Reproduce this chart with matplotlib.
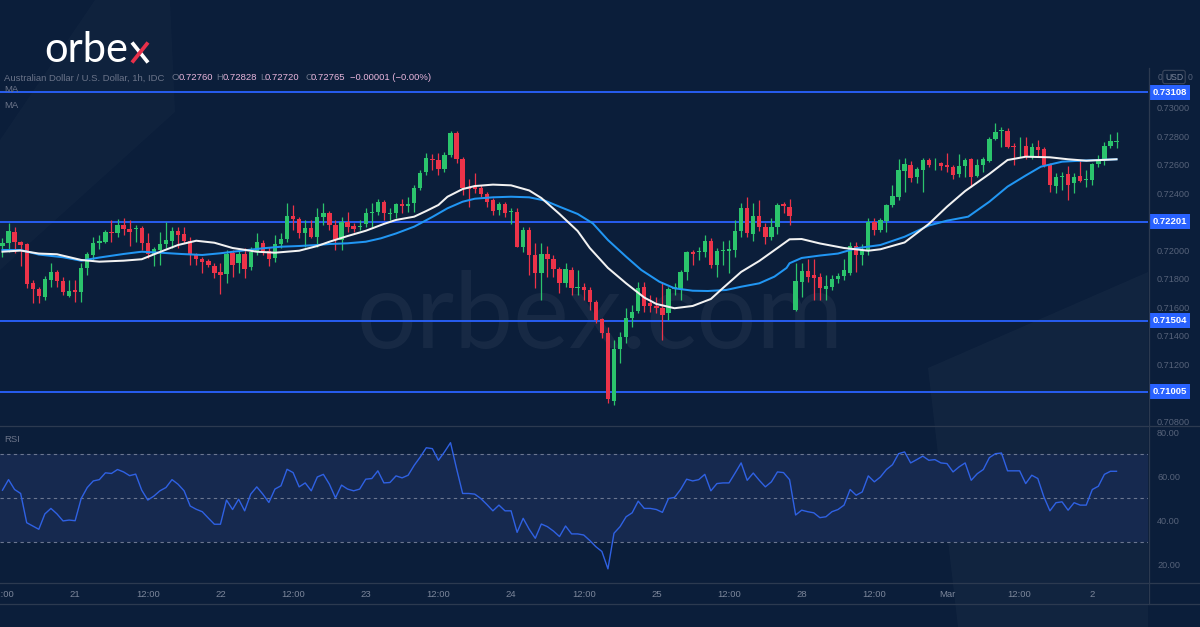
import numpy as np
import matplotlib
matplotlib.use("Agg")
import matplotlib.pyplot as plt
import matplotlib.transforms as mtransforms
from matplotlib.lines import Line2D
from matplotlib.patches import Polygon
from matplotlib.ticker import FormatStrFormatter

plt.rcParams['font.family'] = ['Liberation Sans', 'DejaVu Sans']

# AUD/USD 1h candles, Feb 20 12:00 -> Mar 2 03:00 (weekend compressed)
opens = np.array([
    0.72030, 0.72049, 0.72128, 0.72060, 0.72042, 0.71768, 0.71728, 0.71674, 0.71791, 0.71846,
    0.71784, 0.71681, 0.71721, 0.71705, 0.71878, 0.71967, 0.72049, 0.72060, 0.72130, 0.72123,
    0.72180, 0.72150, 0.72148, 0.72155, 0.72049, 0.71974, 0.72002, 0.72044, 0.72067, 0.72135,
    0.72114, 0.72065, 0.71967, 0.71941, 0.71927, 0.71890, 0.71848, 0.71834, 0.71979, 0.71909,
    0.71974, 0.71881, 0.71997, 0.72053, 0.71997, 0.71944, 0.72044, 0.72077, 0.72243, 0.72220,
    0.72119, 0.72155, 0.72091, 0.72232, 0.72260, 0.72178, 0.72072, 0.72201, 0.72171, 0.72164,
    0.72185, 0.72260, 0.72269, 0.72339, 0.72255, 0.72264, 0.72325, 0.72311, 0.72330, 0.72435,
    0.72548, 0.72639, 0.72634, 0.72571, 0.72669, 0.72826, 0.72639, 0.72435, 0.72441, 0.72435,
    0.72393, 0.72353, 0.72283, 0.72325, 0.72269, 0.72271, 0.72025, 0.72142, 0.71967, 0.71843,
    0.71974, 0.71937, 0.71867, 0.71768, 0.71862, 0.71737, 0.71744, 0.71721, 0.71635, 0.71515,
    0.71421, 0.70944, 0.71305, 0.71393, 0.71522, 0.71574, 0.71740, 0.71632, 0.71609, 0.71593,
    0.71558, 0.71726, 0.71730, 0.71846, 0.71990, 0.71986, 0.71990, 0.72067, 0.71897, 0.71995,
    0.71997, 0.72002, 0.72137, 0.72295, 0.72112, 0.72241, 0.72166, 0.72091, 0.72166, 0.72325,
    0.72306, 0.71581, 0.71779, 0.71855, 0.71827, 0.71810, 0.71728, 0.71744, 0.71799, 0.71822,
    0.71839, 0.72030, 0.71967, 0.71997, 0.72201, 0.72142, 0.72208, 0.72318, 0.72376, 0.72559,
    0.72599, 0.72512, 0.72564, 0.72634, 0.72611, 0.72611, 0.72599, 0.72587, 0.72536, 0.72594,
    0.72639, 0.72522, 0.72599, 0.72627, 0.72780, 0.72840, 0.72840, 0.72732, 0.72723, 0.72732,
    0.72653, 0.72727, 0.72709, 0.72599, 0.72451, 0.72517, 0.72536, 0.72470, 0.72522, 0.72494,
    0.72494, 0.72606, 0.72634, 0.72735, 0.72760])

highs = np.array([
    0.72086, 0.72192, 0.72164, 0.72065, 0.72049, 0.71791, 0.71744, 0.71820, 0.71913, 0.71862,
    0.71815, 0.71791, 0.71791, 0.71913, 0.71990, 0.72095, 0.72107, 0.72142, 0.72213, 0.72218,
    0.72225, 0.72213, 0.72178, 0.72171, 0.72119, 0.72025, 0.72130, 0.72197, 0.72166, 0.72166,
    0.72166, 0.72095, 0.71979, 0.71955, 0.71937, 0.71909, 0.71909, 0.72002, 0.72002, 0.72002,
    0.72014, 0.72025, 0.72119, 0.72072, 0.72025, 0.72107, 0.72119, 0.72334, 0.72318, 0.72236,
    0.72213, 0.72213, 0.72295, 0.72334, 0.72278, 0.72213, 0.72236, 0.72267, 0.72190, 0.72213,
    0.72295, 0.72330, 0.72358, 0.72353, 0.72295, 0.72334, 0.72358, 0.72372, 0.72458, 0.72564,
    0.72681, 0.72676, 0.72681, 0.72692, 0.72840, 0.72840, 0.72657, 0.72501, 0.72541, 0.72458,
    0.72411, 0.72365, 0.72341, 0.72341, 0.72295, 0.72295, 0.72166, 0.72166, 0.72049, 0.72053,
    0.72030, 0.71967, 0.71885, 0.71913, 0.71885, 0.71862, 0.71772, 0.71744, 0.71651, 0.71522,
    0.71463, 0.71370, 0.71428, 0.71593, 0.71616, 0.71779, 0.71779, 0.71686, 0.71674, 0.71779,
    0.71744, 0.71768, 0.71862, 0.71997, 0.72002, 0.72025, 0.72107, 0.72084, 0.72014, 0.72067,
    0.72072, 0.72213, 0.72330, 0.72376, 0.72330, 0.72353, 0.72194, 0.72225, 0.72330, 0.72341,
    0.72358, 0.71909, 0.71909, 0.71937, 0.71937, 0.71839, 0.71827, 0.71827, 0.71839, 0.71937,
    0.72060, 0.72060, 0.72044, 0.72225, 0.72225, 0.72225, 0.72325, 0.72458, 0.72639, 0.72646,
    0.72630, 0.72587, 0.72646, 0.72646, 0.72646, 0.72622, 0.72681, 0.72599, 0.72676, 0.72646,
    0.72646, 0.72639, 0.72657, 0.72794, 0.72892, 0.72864, 0.72856, 0.72751, 0.72798, 0.72798,
    0.72751, 0.72774, 0.72727, 0.72611, 0.72541, 0.72552, 0.72592, 0.72545, 0.72634, 0.72564,
    0.72611, 0.72669, 0.72763, 0.72819, 0.72828])

lows = np.array([
    0.71953, 0.71988, 0.71981, 0.71890, 0.71735, 0.71632, 0.71630, 0.71651, 0.71744, 0.71744,
    0.71686, 0.71670, 0.71639, 0.71639, 0.71827, 0.71932, 0.72007, 0.72049, 0.72060, 0.72095,
    0.72107, 0.72032, 0.72060, 0.72002, 0.71944, 0.71890, 0.71897, 0.72014, 0.72014, 0.72014,
    0.72049, 0.71897, 0.71897, 0.71843, 0.71885, 0.71803, 0.71693, 0.71772, 0.71815, 0.71843,
    0.71803, 0.71862, 0.71967, 0.71967, 0.71892, 0.71920, 0.72014, 0.72060, 0.72142, 0.72084,
    0.72025, 0.72084, 0.72025, 0.72178, 0.72142, 0.72002, 0.72002, 0.72130, 0.72130, 0.72142,
    0.72166, 0.72162, 0.72248, 0.72213, 0.72213, 0.72225, 0.72260, 0.72271, 0.72271, 0.72423,
    0.72529, 0.72564, 0.72529, 0.72552, 0.72657, 0.72611, 0.72388, 0.72304, 0.72400, 0.72376,
    0.72306, 0.72248, 0.72248, 0.72236, 0.72185, 0.72020, 0.71990, 0.71827, 0.71733, 0.71651,
    0.71815, 0.71815, 0.71698, 0.71744, 0.71686, 0.71686, 0.71651, 0.71581, 0.71487, 0.71382,
    0.70926, 0.70914, 0.71207, 0.71347, 0.71463, 0.71558, 0.71569, 0.71569, 0.71558, 0.71370,
    0.71510, 0.71686, 0.71651, 0.71791, 0.71897, 0.71932, 0.71955, 0.71874, 0.71815, 0.71897,
    0.71843, 0.71951, 0.72091, 0.72095, 0.72067, 0.72137, 0.72044, 0.72072, 0.72114, 0.72260,
    0.72178, 0.71576, 0.71674, 0.71779, 0.71651, 0.71651, 0.71651, 0.71721, 0.71768, 0.71791,
    0.71827, 0.71850, 0.71897, 0.71967, 0.72107, 0.72130, 0.72130, 0.72306, 0.72353, 0.72411,
    0.72482, 0.72470, 0.72411, 0.72587, 0.72564, 0.72564, 0.72552, 0.72501, 0.72517, 0.72517,
    0.72447, 0.72512, 0.72552, 0.72620, 0.72774, 0.72723, 0.72716, 0.72599, 0.72657, 0.72639,
    0.72639, 0.72653, 0.72587, 0.72411, 0.72400, 0.72423, 0.72353, 0.72404, 0.72482, 0.72442,
    0.72458, 0.72587, 0.72599, 0.72716, 0.72720])

closes = np.array([
    0.72053, 0.72137, 0.72060, 0.72037, 0.71763, 0.71728, 0.71679, 0.71799, 0.71846, 0.71786,
    0.71705, 0.71714, 0.71705, 0.71878, 0.71972, 0.72053, 0.72065, 0.72130, 0.72123, 0.72176,
    0.72152, 0.72130, 0.72155, 0.72049, 0.71974, 0.72007, 0.72044, 0.72072, 0.72135, 0.72105,
    0.72067, 0.71967, 0.71941, 0.71918, 0.71895, 0.71839, 0.71827, 0.71972, 0.71897, 0.71972,
    0.71871, 0.71990, 0.72056, 0.71997, 0.71937, 0.72044, 0.72077, 0.72243, 0.72220, 0.72119,
    0.72155, 0.72091, 0.72232, 0.72260, 0.72178, 0.72072, 0.72201, 0.72166, 0.72152, 0.72171,
    0.72260, 0.72269, 0.72339, 0.72260, 0.72264, 0.72325, 0.72311, 0.72325, 0.72435, 0.72545,
    0.72646, 0.72634, 0.72571, 0.72669, 0.72826, 0.72639, 0.72435, 0.72427, 0.72430, 0.72393,
    0.72341, 0.72278, 0.72325, 0.72264, 0.72276, 0.72025, 0.72142, 0.71967, 0.71843, 0.71974,
    0.71937, 0.71867, 0.71768, 0.71867, 0.71733, 0.71744, 0.71721, 0.71635, 0.71510, 0.71417,
    0.70954, 0.71305, 0.71393, 0.71522, 0.71569, 0.71733, 0.71609, 0.71609, 0.71595, 0.71546,
    0.71726, 0.71744, 0.71846, 0.71990, 0.71974, 0.71997, 0.72067, 0.71897, 0.71997, 0.72002,
    0.72007, 0.72137, 0.72295, 0.72123, 0.72241, 0.72166, 0.72095, 0.72166, 0.72318, 0.72311,
    0.72243, 0.71784, 0.71855, 0.71815, 0.71808, 0.71733, 0.71749, 0.71799, 0.71822, 0.71862,
    0.72030, 0.71967, 0.72002, 0.72201, 0.72142, 0.72213, 0.72318, 0.72381, 0.72564, 0.72606,
    0.72505, 0.72569, 0.72634, 0.72599, 0.72616, 0.72592, 0.72583, 0.72529, 0.72592, 0.72634,
    0.72517, 0.72599, 0.72639, 0.72780, 0.72833, 0.72845, 0.72727, 0.72727, 0.72727, 0.72653,
    0.72723, 0.72704, 0.72599, 0.72458, 0.72517, 0.72522, 0.72458, 0.72517, 0.72488, 0.72498,
    0.72606, 0.72634, 0.72732, 0.72770, 0.72765])

# moving averages at these bar positions
fast_ma_bars = [0, 3, 6, 9, 13, 16, 20, 23, 26, 29, 32, 35, 38, 42, 45, 49, 52, 54, 57, 60,
                63, 65, 68, 70, 72, 73.5, 76, 78, 81, 84, 87, 89, 92, 95, 97, 100, 103, 106, 108, 111,
                114, 117, 119, 122, 125, 128, 130, 132, 135, 139, 143, 145, 149, 153, 156, 159, 163, 166, 169, 173,
                176, 179, 184]
fast_ma = [0.71990, 0.71998, 0.71977, 0.71972, 0.71932, 0.71920, 0.71927, 0.71937, 0.71988, 0.72037,
           0.72067, 0.72053, 0.72016, 0.71990, 0.71983, 0.71997, 0.72030, 0.72060, 0.72100, 0.72137,
           0.72185, 0.72213, 0.72236, 0.72276, 0.72318, 0.72376, 0.72430, 0.72451, 0.72461, 0.72456,
           0.72420, 0.72367, 0.72255, 0.72135, 0.72016, 0.71876, 0.71768, 0.71668, 0.71623, 0.71593,
           0.71609, 0.71658, 0.71735, 0.71848, 0.71925, 0.72016, 0.72077, 0.72079, 0.72048, 0.72016,
           0.71997, 0.72007, 0.72055, 0.72185, 0.72306, 0.72416, 0.72536, 0.72634, 0.72657, 0.72653,
           0.72639, 0.72629, 0.72639]

slow_ma_bars = [0, 3, 6, 10, 13, 16, 20, 23, 26, 29.5, 33, 36, 39.5, 43, 46, 49, 52, 54, 57, 60,
                62.5, 65, 68, 71, 73.5, 76, 78, 81, 84, 87, 89.5, 92, 95, 97.5, 100, 103, 105.5, 108.5, 111, 114,
                116.5, 119.5, 122, 125, 127.5, 129.5, 130, 132, 135, 138, 141, 145, 149, 153, 156, 159.5, 163, 166, 169, 171.5,
                175, 178, 184]
slow_ma = [0.72002, 0.72002, 0.71970, 0.71951, 0.71927, 0.71949, 0.71974, 0.71990, 0.71983, 0.71974,
           0.71967, 0.71979, 0.71997, 0.72014, 0.72025, 0.72030, 0.72037, 0.72044, 0.72049, 0.72060,
           0.72084, 0.72118, 0.72166, 0.72234, 0.72295, 0.72341, 0.72362, 0.72372, 0.72376, 0.72372,
           0.72350, 0.72306, 0.72255, 0.72189, 0.72072, 0.71955, 0.71862, 0.71779, 0.71733, 0.71716,
           0.71714, 0.71721, 0.71744, 0.71768, 0.71815, 0.71876, 0.71909, 0.71946, 0.71963, 0.71977,
           0.72014, 0.72037, 0.72095, 0.72174, 0.72208, 0.72236, 0.72341, 0.72447, 0.72525, 0.72587,
           0.72622, 0.72629, 0.72639]

rsi = [53.7, 58.5, 54.0, 52.2, 38.9, 37.4, 35.9, 42.9, 45.4, 42.9,
       39.7, 40.1, 39.8, 49.9, 54.9, 57.9, 58.5, 61.6, 61.3, 63.1,
       62.0, 60.3, 61.0, 53.7, 49.2, 51.0, 53.4, 54.9, 58.5, 56.4,
       53.4, 46.5, 45.0, 43.9, 41.0, 38.2, 38.2, 49.2, 44.9, 49.6,
       44.3, 51.9, 55.2, 51.9, 48.1, 54.2, 55.7, 63.2, 61.7, 55.2,
       57.0, 53.4, 59.7, 60.9, 56.4, 50.2, 56.0, 54.2, 53.4, 54.2,
       58.7, 59.0, 62.5, 57.0, 57.2, 60.2, 59.3, 60.5, 65.0, 68.8,
       73.0, 72.6, 67.3, 71.1, 75.3, 63.5, 52.2, 52.2, 51.9, 49.9,
       47.2, 44.3, 46.9, 44.3, 44.3, 34.5, 40.9, 35.9, 31.8, 38.3,
       37.1, 35.1, 32.6, 37.4, 33.8, 33.8, 33.3, 30.8, 28.0, 25.8,
       17.9, 34.1, 37.1, 41.6, 43.4, 48.7, 45.4, 45.4, 44.9, 43.6,
       49.9, 50.4, 54.0, 58.7, 57.9, 58.5, 60.9, 53.4, 56.7, 57.0,
       57.0, 61.5, 66.1, 58.2, 61.5, 58.2, 55.2, 57.5, 62.0, 61.7,
       58.5, 42.4, 44.6, 43.9, 43.4, 41.2, 41.6, 43.9, 44.9, 46.9,
       54.0, 51.4, 52.9, 60.2, 57.5, 59.7, 63.1, 65.3, 70.3, 71.1,
       66.1, 67.6, 69.2, 67.3, 67.6, 66.1, 65.8, 62.0, 64.3, 66.1,
       58.2, 61.2, 63.1, 68.5, 70.3, 70.6, 62.5, 62.5, 62.5, 56.7,
       60.5, 59.0, 50.7, 44.3, 48.0, 48.4, 44.6, 48.0, 46.9, 46.9,
       54.0, 55.5, 60.9, 62.3, 62.3]

levels = [0.73108, 0.72201, 0.71504, 0.71005]
# price scale labels that are not hidden behind a level tag
price_ticks = [0.708, 0.712, 0.714, 0.716, 0.718, 0.720, 0.724, 0.726, 0.728, 0.730]
time_labels = ['12:00', '21', '12:00', '22', '12:00', '23', '12:00', '24',
               '12:00', '25', '12:00', '28', '12:00', 'Mar', '12:00', '2']

BG = '#0b1e3a'
GREEN = '#2bc46c'
RED = '#ec3349'
LEVEL_BLUE = '#2962ff'
SEP = '#2c3a50'
AXIS_TXT = '#566279'
TIME_TXT = '#7c869a'

W, H = 1200, 627


def fx(px):
    return px / W


def fy(py):
    return 1 - py / H


fig = plt.figure(figsize=(12, 6.27), dpi=100, facecolor=BG)

# faint background decoration
fig.add_artist(Polygon([(fx(95), fy(0)), (fx(170), fy(0)), (fx(175), fy(112)), (fx(0), fy(270)), (fx(0), fy(140))],
                       closed=True, transform=fig.transFigure, facecolor='white', alpha=0.018, lw=0, zorder=-2))
fig.add_artist(Polygon([(fx(928), fy(368)), (fx(1148), fy(272)), (fx(1148), fy(627)), (fx(958), fy(627))],
                       closed=True, transform=fig.transFigure, facecolor='white', alpha=0.028, lw=0, zorder=-2))

ax = fig.add_axes([0, fy(426), fx(1148), (426 - 68) / H])
ax_rsi = fig.add_axes([0, fy(582.7), fx(1148), (582.7 - 426) / H], sharex=ax)
for a in (ax, ax_rsi):
    a.set_facecolor('none')
    for s in a.spines.values():
        s.set_visible(False)

# candles
x = np.arange(len(closes))
up = closes >= opens
colors = np.where(up, GREEN, RED)
ax.vlines(x, lows, highs, colors=colors, lw=0.9, zorder=3)
body = np.maximum(np.abs(closes - opens), 0.000025)
ax.bar(x, body, bottom=np.minimum(opens, closes), width=0.72, color=colors, linewidth=0, zorder=4)

# moving averages
ax.plot(slow_ma_bars, slow_ma, color='#2196f3', lw=1.45, zorder=5)
ax.plot(fast_ma_bars, fast_ma, color='#f2f2f2', lw=1.45, zorder=6)

# support / resistance levels with price tags
tag_tr = mtransforms.blended_transform_factory(ax.transAxes, ax.transData)
for lv in levels:
    ax.axhline(lv, color=LEVEL_BLUE, lw=1.3, zorder=2)
    ax.text(1 + 4.5 / 1148, lv, f'{lv:.5f}', transform=tag_tr, color='white', fontsize=6.8,
            fontweight='bold', va='center', ha='left', clip_on=False, zorder=10,
            bbox=dict(boxstyle='square,pad=0.32', fc=LEVEL_BLUE, ec='none'))

ax.set_xlim(-0.41, 189.2)
ax.set_ylim(0.70766, 0.73280)
ax.yaxis.tick_right()
ax.set_yticks(price_ticks)
ax.yaxis.set_major_formatter(FormatStrFormatter('%.5f'))
ax.tick_params(axis='y', length=0, pad=6.5, labelsize=6.6, labelcolor=AXIS_TXT)
ax.tick_params(axis='x', bottom=False, labelbottom=False)

# watermark
ax.text(fx(600), fy(348), 'orbex.com', transform=fig.transFigure, ha='center', va='baseline',
        fontsize=76, family='Lato', color='white', alpha=0.05, zorder=1)

# RSI pane
ax_rsi.axhspan(30, 70, color='#16294f', lw=0, zorder=0)
for lv in (70, 50, 30):
    ax_rsi.axhline(lv, color='#6b7690', lw=0.8, ls=(0, (3, 3)), zorder=1)
ax_rsi.plot(x, rsi, color='#2f61e3', lw=1.0, zorder=3)
ax_rsi.set_ylim(11.6, 82.9)
ax_rsi.yaxis.tick_right()
ax_rsi.set_yticks([20, 40, 60, 80])
ax_rsi.yaxis.set_major_formatter(FormatStrFormatter('%.2f'))
ax_rsi.tick_params(axis='y', length=0, pad=6.5, labelsize=6.6, labelcolor=AXIS_TXT)
ax_rsi.set_xticks(np.arange(0, 12 * len(time_labels), 12))
ax_rsi.set_xticklabels(time_labels)
ax_rsi.tick_params(axis='x', length=0, pad=5, labelsize=6.8, labelcolor=TIME_TXT)

# pane separators
for (x0, y0, x1, y1) in [(0, 426, 1200, 426), (0, 582.7, 1200, 582.7), (0, 604, 1200, 604),
                         (1148.5, 68, 1148.5, 604)]:
    fig.add_artist(Line2D([fx(x0), fx(x1)], [fy(y0), fy(y1)], transform=fig.transFigure,
                          color=SEP, lw=0.9, zorder=3))

# logo
fig.text(fx(44), fy(62.5), 'orbe', family='Lato', fontsize=30, color='white', va='baseline')
fig.add_artist(Line2D([fx(132), fx(148)], [fy(42.5), fy(62.5)], transform=fig.transFigure,
                      color='white', lw=2.7, solid_capstyle='butt'))
fig.add_artist(Line2D([fx(132), fx(148)], [fy(62.5), fy(42.5)], transform=fig.transFigure,
                      color='#e8304a', lw=2.7, solid_capstyle='butt'))

# header line
GREY = '#6b7489'
VAL = '#e9b6dc'
hdr = [(4, 'Australian Dollar / U.S. Dollar, 1h, IDC', GREY),
       (172, 'O', GREY), (179, '0.72760', VAL),
       (216, 'H', GREY), (223, '0.72828', VAL),
       (260, 'L', GREY), (265, '0.72720', VAL),
       (305, 'C', GREY), (311, '0.72765', VAL),
       (350, '\u22120.00001 (\u22120.00%)', VAL)]
for px, s, c in hdr:
    fig.text(fx(px), fy(78), s, color=c, fontsize=6.8, va='center', ha='left')
fig.text(fx(4), fy(90), 'MA', color=GREY, fontsize=6.8, va='center')
fig.text(fx(4), fy(105), 'MA', color=GREY, fontsize=6.8, va='center')
fig.text(fx(4), fy(439), 'RSI', color=GREY, fontsize=6.8, va='center')

# currency badge on the price scale
fig.text(fx(1158), fy(77), '0', color=AXIS_TXT, fontsize=6.2, va='center')
fig.text(fx(1188), fy(77), '0', color=AXIS_TXT, fontsize=6.2, va='center')
fig.text(fx(1174), fy(77), 'USD', color='#7c869a', fontsize=6.2, va='center', ha='center',
         bbox=dict(boxstyle='round,pad=0.25', fc=BG, ec='#3a465c', lw=0.8))

fig.savefig('out.png', dpi=100, facecolor=BG)
